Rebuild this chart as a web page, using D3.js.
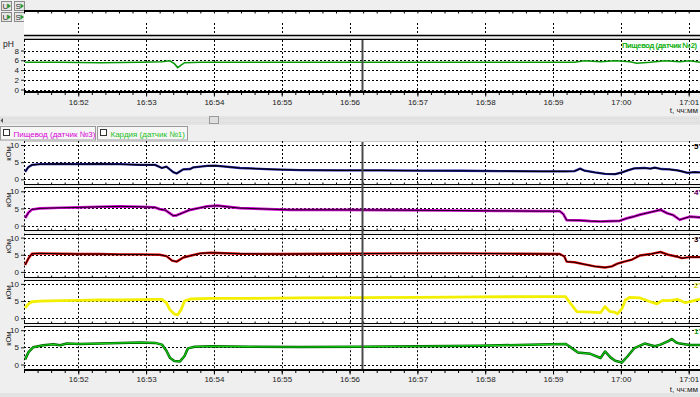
<!DOCTYPE html>
<html><head><meta charset="utf-8">
<script src="https://cdn.jsdelivr.net/npm/d3@7"></script>
<style>
html,body{margin:0;padding:0;background:#efefef;overflow:hidden;}
svg{display:block;font-family:"Liberation Sans",Arial,sans-serif;}
</style></head><body>
<svg id="c" width="700" height="397"></svg>
<script>
// ---------------- DATA ----------------
const timeDomain = ["16:51:12", "17:01:10"];
const timeTicks = ["16:52","16:53","16:54","16:55","16:56","16:57","16:58","16:59","17:00","17:01"];
const cursorTime = "16:56:11";
const phTicks = [0, 2, 4, 6, 8];
const kohmTicks = [0, 5, 10];
const axisTitle = "t, чч:мм";
const phTitle = "pH";
const kohmTitle = "кОм";
const phLegend = "Пищевод (датчик №2)";
const tabLabels = ["Пищевод (датчик №3)", "Кардия (датчик №1)"];
const channelLabels = ["5", "4", "3", "2", "1"];

const phSeries = [["16:51:13",5.6],["16:51:44",5.6],["16:52:19",5.5],["16:52:55",5.6],["16:53:14",5.7],["16:53:21",5.9],["16:53:25",5.3],["16:53:28",4.5],["16:53:31",5.0],["16:53:34",5.5],["16:53:48",5.6],["16:54:32",5.6],["16:55:16",5.6],["16:56:09",5.6],["16:57:02",5.6],["16:57:55",5.6],["16:58:49",5.6],["16:59:19",5.6],["16:59:28",5.9],["16:59:42",5.7],["16:59:55",5.9],["17:00:08",5.7],["17:00:14",5.4],["17:00:26",5.6],["17:00:39",5.9],["17:00:52",5.7],["17:01:01",5.9],["17:01:10",5.6]];

const ch5 = [["16:51:13",2.2],["16:51:16",3.6],["16:51:19",4.2],["16:51:26",4.4],["16:51:44",4.5],["16:52:01",4.4],["16:52:19",4.5],["16:52:37",4.4],["16:52:55",4.2],["16:53:08",4.2],["16:53:14",3.3],["16:53:18",3.7],["16:53:24",2.1],["16:53:27",1.7],["16:53:33",2.9],["16:53:39",3.0],["16:53:42",3.5],["16:53:54",3.9],["16:54:01",4.0],["16:54:23",3.3],["16:54:52",2.9],["16:55:16",2.7],["16:55:51",2.6],["16:56:27",2.6],["16:57:02",2.5],["16:57:38",2.5],["16:58:13",2.4],["16:58:49",2.3],["16:59:11",2.3],["16:59:19",2.4],["16:59:24",3.1],["16:59:28",2.5],["16:59:37",2.0],["16:59:46",1.6],["16:59:55",1.5],["17:00:01",2.0],["17:00:06",2.6],["17:00:12",3.2],["17:00:21",3.3],["17:00:26",3.1],["17:00:30",3.4],["17:00:36",3.0],["17:00:43",2.9],["17:00:50",2.6],["17:00:54",2.3],["17:00:59",1.9],["17:01:05",2.1],["17:01:10",2.0]];

const ch4 = [["16:51:13",2.2],["16:51:16",3.8],["16:51:19",4.7],["16:51:26",5.0],["16:51:44",5.2],["16:52:01",5.3],["16:52:19",5.5],["16:52:37",5.6],["16:52:55",5.5],["16:53:08",5.3],["16:53:12",4.8],["16:53:17",4.5],["16:53:24",2.9],["16:53:27",3.0],["16:53:33",3.8],["16:53:39",4.6],["16:53:48",5.2],["16:53:54",5.6],["16:54:03",5.8],["16:54:23",5.1],["16:55:07",4.6],["16:55:51",4.6],["16:56:45",4.5],["16:57:29",4.4],["16:58:13",4.3],["16:58:49",4.2],["16:59:06",4.2],["16:59:09",3.4],["16:59:12",1.6],["16:59:24",1.5],["16:59:33",1.3],["16:59:42",1.2],["16:59:51",1.3],["16:59:59",1.4],["17:00:05",2.1],["17:00:11",2.6],["17:00:17",3.2],["17:00:26",3.9],["17:00:35",4.6],["17:00:41",3.6],["17:00:46",3.1],["17:00:52",1.7],["17:00:57",2.2],["17:01:01",2.6],["17:01:10",2.4]];

const ch3 = [["16:51:13",2.0],["16:51:16",4.0],["16:51:19",5.3],["16:51:26",5.4],["16:51:44",5.3],["16:52:01",5.2],["16:52:19",5.2],["16:52:37",5.1],["16:52:55",5.1],["16:53:12",5.0],["16:53:18",4.6],["16:53:23",3.3],["16:53:27",3.0],["16:53:33",4.2],["16:53:39",4.7],["16:53:48",5.4],["16:53:57",5.6],["16:54:23",5.3],["16:54:59",5.2],["16:55:51",5.3],["16:56:45",5.4],["16:57:38",5.4],["16:58:31",5.3],["16:59:06",5.2],["16:59:10",4.5],["16:59:12",3.0],["16:59:19",2.8],["16:59:28",2.2],["16:59:37",1.6],["16:59:46",1.3],["16:59:52",1.6],["16:59:57",2.4],["17:00:03",3.0],["17:00:10",3.6],["17:00:17",4.8],["17:00:26",5.2],["17:00:35",5.8],["17:00:42",5.0],["17:00:49",4.5],["17:00:54",4.0],["17:01:01",4.3],["17:01:10",4.3]];

const ch2 = [["16:51:13",3.0],["16:51:16",4.2],["16:51:19",4.8],["16:51:26",5.0],["16:51:44",5.1],["16:52:01",5.2],["16:52:19",5.3],["16:52:37",5.3],["16:52:55",5.4],["16:53:08",5.5],["16:53:14",5.5],["16:53:18",4.5],["16:53:21",2.5],["16:53:25",1.2],["16:53:28",1.0],["16:53:31",2.5],["16:53:34",5.0],["16:53:39",5.6],["16:53:57",5.8],["16:54:32",5.8],["16:55:16",5.9],["16:56:09",6.0],["16:57:02",6.1],["16:57:55",6.2],["16:58:49",6.3],["16:59:11",6.3],["16:59:15",4.5],["16:59:21",1.9],["16:59:33",1.8],["16:59:42",1.6],["16:59:46",3.4],["16:59:50",2.0],["16:59:54",1.8],["16:59:57",1.3],["17:00:01",2.8],["17:00:04",5.3],["17:00:08",6.1],["17:00:17",5.9],["17:00:26",4.8],["17:00:32",4.2],["17:00:37",5.2],["17:00:43",5.1],["17:00:50",5.5],["17:00:57",4.5],["17:01:03",5.0],["17:01:10",5.6]];

const ch1 = [["16:51:13",1.5],["16:51:16",3.6],["16:51:20",5.0],["16:51:29",5.6],["16:51:38",5.9],["16:51:44",5.6],["16:51:50",6.1],["16:52:01",6.0],["16:52:19",6.1],["16:52:37",6.3],["16:52:55",6.4],["16:53:08",6.3],["16:53:14",5.8],["16:53:18",4.0],["16:53:21",2.0],["16:53:25",1.0],["16:53:30",0.9],["16:53:34",2.5],["16:53:37",4.7],["16:53:43",5.2],["16:53:57",5.3],["16:54:32",5.2],["16:55:16",5.1],["16:56:09",5.2],["16:57:02",5.3],["16:57:55",5.5],["16:58:49",5.8],["16:59:11",6.0],["16:59:13",5.6],["16:59:17",4.7],["16:59:22",3.5],["16:59:33",3.1],["16:59:42",1.9],["16:59:46",3.8],["16:59:51",2.0],["16:59:55",1.1],["17:00:01",0.6],["17:00:06",2.4],["17:00:12",4.8],["17:00:21",6.1],["17:00:30",5.3],["17:00:35",5.8],["17:00:42",6.8],["17:00:45",7.4],["17:00:49",6.4],["17:00:52",6.1],["17:01:01",5.7],["17:01:10",5.7]];

// ---------------- DRAW ----------------
const svg = d3.select("#c");
const parse = d3.timeParse("%H:%M:%S");
const L = 24, R = 700;
const x = d3.scaleTime().domain(timeDomain.map(parse)).range([L, R]);
const majors = timeTicks.map(s => parse(s + ":00"));
const minors = x.ticks(d3.timeSecond.every(12));
const fmt = d3.timeFormat("%H:%M");
const cx = Math.round(x(parse(cursorTime))) + 0.5;

svg.append("rect").attr("width", 700).attr("height", 397).attr("fill", "#efefef");

// toolbar icons
[[1, 1], [1, 12]].forEach(([px, py]) => {
  ["U", "S"].forEach((ch, k) => {
    const g = svg.append("g").attr("transform", `translate(${px + k * 13},${py})`);
    g.append("rect").attr("x", 0.5).attr("y", 0.5).attr("width", 10).attr("height", 9)
      .attr("fill", "#e6e6e6").attr("stroke", "#8a8a8a");
    g.append("text").attr("x", 1.5).attr("y", 8).attr("font-size", 8).attr("fill", "#333").text(ch);
    g.append("path").attr("d", "M10,5 L6.5,2.5 L6.5,7.5 Z").attr("fill", "#2a9a2a");
  });
});

function vGrid(y1, y2) {
  svg.append("g").selectAll("line").data(majors).join("line")
    .attr("x1", d => Math.round(x(d)) + 0.5).attr("x2", d => Math.round(x(d)) + 0.5)
    .attr("y1", y1).attr("y2", y2)
    .attr("stroke", "#000").attr("stroke-width", 1).attr("stroke-dasharray", "2,2");
}
function hLine(y, w, col) {
  svg.append("line").attr("x1", L).attr("x2", R).attr("y1", y).attr("y2", y)
    .attr("stroke", col || "#000").attr("stroke-width", w || 1);
}

// top (collapsed) panel
svg.append("rect").attr("x", L).attr("y", 11).attr("width", R - L).attr("height", 25).attr("fill", "#fff");
hLine(11, 2);
svg.append("g").attr("transform", "translate(0,12)")
  .call(d3.axisBottom(x).tickValues(minors).tickSize(1.5).tickFormat(""))
  .call(g => g.select(".domain").remove());
vGrid(23, 35);
hLine(35.5, 1.3);
hLine(39.5, 1.3);

// pH panel
const phTop = 40, phBot = 91;
const yPh = d3.scaleLinear().domain([0, 10]).range([89.5, 40.8]);
svg.append("rect").attr("x", L).attr("y", phTop).attr("width", R - L).attr("height", phBot - phTop).attr("fill", "#fff");
svg.append("g").selectAll("line").data(phTicks).join("line")
  .attr("x1", L).attr("x2", R).attr("y1", d => Math.round(yPh(d)) + 0.5).attr("y2", d => Math.round(yPh(d)) + 0.5)
  .attr("stroke", "#000").attr("stroke-dasharray", "2,2");
vGrid(phTop, phBot);
svg.append("line").attr("x1", L + 0.5).attr("x2", L + 0.5).attr("y1", phTop).attr("y2", phBot)
  .attr("stroke", "#000").attr("stroke-dasharray", "2,2");
svg.append("path").datum(phSeries)
  .attr("d", d3.line().x(d => x(parse(d[0]))).y(d => yPh(d[1])))
  .attr("fill", "none").attr("stroke", "#0a9a0a").attr("stroke-width", 1.6);
svg.append("line").attr("x1", cx).attr("x2", cx).attr("y1", phTop).attr("y2", phBot)
  .attr("stroke", "#4a4a4a").attr("stroke-width", 2);
svg.append("text").attr("x", 697).attr("y", 48).attr("text-anchor", "end")
  .attr("font-size", 7.6).attr("font-weight", "bold").attr("fill", "#10b010").attr("textLength", 75).text(phLegend);
svg.append("text").attr("x", 3).attr("y", 47).attr("font-size", 8.5).attr("fill", "#222").text(phTitle);
svg.append("g").attr("transform", `translate(${L},0)`)
  .call(d3.axisLeft(yPh).tickValues(phTicks).tickSize(3).tickPadding(2))
  .call(g => g.select(".domain").remove())
  .call(g => g.selectAll("text").attr("font-size", 8).attr("fill", "#222").attr("font-family", "Liberation Sans, Arial"))
  .call(g => g.selectAll("line").attr("stroke", "#222"));

// time axis
function timeAxis(y, labelY) {
  hLine(y, 2);
  svg.append("g").attr("transform", `translate(0,${y + 1})`)
    .call(d3.axisBottom(x).tickValues(minors).tickSize(2).tickFormat(""))
    .call(g => g.select(".domain").remove());
  svg.append("g").attr("transform", `translate(0,${y + 1})`)
    .call(d3.axisBottom(x).tickValues(majors).tickSize(3.5).tickPadding(labelY).tickFormat(fmt))
    .call(g => g.select(".domain").remove())
    .call(g => g.selectAll("text").attr("font-size", 8).attr("fill", "#222").attr("font-family", "Liberation Sans, Arial"));
}
timeAxis(92, 2.5);
svg.append("text").attr("x", 698).attr("y", 113).attr("text-anchor", "end")
  .attr("font-size", 8).attr("fill", "#222").text(axisTitle);

// scrollbar
svg.append("rect").attr("x", 0).attr("y", 116).attr("width", 700).attr("height", 9).attr("fill", "#e4e4e4");
svg.append("line").attr("x1", 0).attr("x2", 700).attr("y1", 118.5).attr("y2", 118.5).attr("stroke", "#d6d6d6").attr("stroke-dasharray", "1,1");
svg.append("line").attr("x1", 0).attr("x2", 700).attr("y1", 122.5).attr("y2", 122.5).attr("stroke", "#d6d6d6").attr("stroke-dasharray", "1,1");
svg.append("rect").attr("x", 209.5).attr("y", 116.5).attr("width", 9).attr("height", 7)
  .attr("fill", "#dedede").attr("stroke", "#9a9a9a");
svg.append("path").attr("d", "M0.5,120.5 L3,118 L3,123 Z").attr("fill", "#555");

// tabs
const tabX = [[0.5, 95], [97.5, 90]];
const tabCol = ["#d800d8", "#20c020"];
tabLabels.forEach((t, i) => {
  const [tx, tw] = tabX[i];
  svg.append("rect").attr("x", tx).attr("y", 126.5).attr("width", tw).attr("height", 13.5)
    .attr("fill", "#f6f6f6").attr("stroke", "#9a9a9a");
  svg.append("rect").attr("x", tx + 3).attr("y", 129.5).attr("width", 6).attr("height", 6)
    .attr("fill", "#fff").attr("stroke", "#333");
  svg.append("text").attr("x", tx + 13).attr("y", 136.5).attr("font-size", 8).attr("fill", tabCol[i]).text(t);
});

// lower panels
const chans = [ch5, ch4, ch3, ch2, ch1];
const styles = [
  [{c: "#2020a8", w: 2.3}, {c: "#000", w: 1.1}],
  [{c: "#d000d0", w: 2.7}, {c: "#000", w: 0.9}],
  [{c: "#e00000", w: 2.4}, {c: "#000", w: 1.0}],
  [{c: "#f2f000", w: 2.8}],
  [{c: "#005a00", w: 2.5}, {c: "#10d010", w: 1.1}]
];
const labCol = ["#000", "#700070", "#300000", "#d8d800", "#10a010"];
chans.forEach((data, i) => {
  const y10 = 145 + 46.3 * i, y0 = y10 + 34.3;
  const top = i === 0 ? 141 : y10 - 4, bot = i === 4 ? 369 : y0 + 4.7;
  const y = d3.scaleLinear().domain([0, 10]).range([y0, y10]);
  svg.append("rect").attr("x", L).attr("y", top).attr("width", R - L).attr("height", bot - top).attr("fill", "#fff");
  if (i > 0) hLine(Math.round(top) + 0.5, 1);
  else hLine(141.5, 1, "#c8c8c8");
  if (i < 4) {
    hLine(Math.round(bot) + 0.5, 1);
    svg.append("g").attr("transform", `translate(0,${Math.round(bot)})`)
      .call(d3.axisTop(x).tickValues(minors).tickSize(1.5).tickFormat(""))
      .call(g => g.select(".domain").remove());
  }
  svg.append("g").selectAll("line").data(kohmTicks).join("line")
    .attr("x1", L).attr("x2", R).attr("y1", d => Math.round(y(d)) + 0.5).attr("y2", d => Math.round(y(d)) + 0.5)
    .attr("stroke", "#000").attr("stroke-dasharray", "2,2");
  vGrid(top, bot);
  svg.append("line").attr("x1", L + 0.5).attr("x2", L + 0.5).attr("y1", top).attr("y2", bot)
    .attr("stroke", "#000").attr("stroke-dasharray", "2,2");
  const line = d3.line().x(d => x(parse(d[0]))).y(d => y(d[1]));
  styles[i].forEach(s => {
    svg.append("path").datum(data).attr("d", line)
      .attr("fill", "none").attr("stroke", s.c).attr("stroke-width", s.w).attr("stroke-linejoin", "round");
  });
  svg.append("g").attr("transform", `translate(${L},0)`)
    .call(d3.axisLeft(y).tickValues(kohmTicks).tickSize(3).tickPadding(2))
    .call(g => g.select(".domain").remove())
    .call(g => g.selectAll("text").attr("font-size", 8).attr("fill", "#222").attr("font-family", "Liberation Sans, Arial"))
    .call(g => g.selectAll("line").attr("stroke", "#222"));
  svg.append("text").attr("transform", `translate(10.5,${y10 + 8.5}) rotate(-90)`)
    .attr("text-anchor", "middle").attr("font-size", 7.5).attr("fill", "#222").text(kohmTitle);
  svg.append("text").attr("x", 694).attr("y", y10 + 4).attr("font-size", 8).attr("font-weight", "bold")
    .attr("fill", labCol[i]).text(channelLabels[i] + "'");
});
svg.append("line").attr("x1", cx).attr("x2", cx).attr("y1", 142).attr("y2", 369)
  .attr("stroke", "#4a4a4a").attr("stroke-width", 2);

timeAxis(370, 1.5);
svg.append("text").attr("x", 698).attr("y", 392).attr("text-anchor", "end")
  .attr("font-size", 8).attr("fill", "#222").text(axisTitle);
svg.append("rect").attr("x", 0).attr("y", 393).attr("width", 700).attr("height", 4).attr("fill", "#e2e2e2");
</script>
</body></html>
